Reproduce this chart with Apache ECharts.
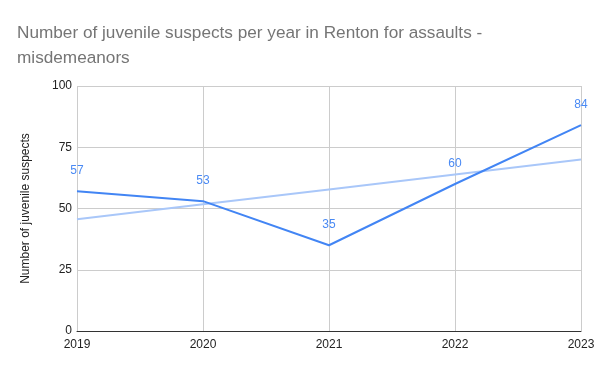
<!DOCTYPE html>
<html><head><meta charset="utf-8">
<script src="https://cdn.jsdelivr.net/npm/echarts@6/dist/echarts.min.js"></script>
<style>html,body{margin:0;padding:0;background:#fff}#c{width:600px;height:371px}</style>
</head><body><div id="c"></div>
<script>
const categories = ['2019','2020','2021','2022','2023'];
const suspects = [57, 53, 35, 60, 84];
const trend = [45.6, 51.7, 57.8, 63.9, 70.0];
const yTicks = [0, 25, 50, 75, 100];
const titleText = 'Number of juvenile suspects per year in Renton for assaults -\nmisdemeanors';
const yName = 'Number of juvenile suspects';

const chart = echarts.init(document.getElementById('c'), null, {renderer:'canvas'});
chart.setOption({
  animation:false,
  title:{text:titleText,left:12,top:16,textStyle:{fontFamily:'Arial, Liberation Sans',fontSize:17.2,fontWeight:'normal',color:'#757575',lineHeight:25}},
  grid:{left:77,right:19,top:86,bottom:40},
  xAxis:{type:'category',data:categories,boundaryGap:false,
    axisLine:{lineStyle:{color:'#333',width:1}},axisTick:{show:false},
    axisLabel:{color:'#222',fontSize:12,fontFamily:'Arial, Liberation Sans',margin:8,
      showMinLabel:true,showMaxLabel:true},
    splitLine:{show:true,lineStyle:{color:'#ccc',width:1}}},
  yAxis:{type:'value',min:yTicks[0],max:yTicks[yTicks.length-1],interval:25,
    name:yName,nameLocation:'middle',nameGap:45,nameRotate:90,
    nameTextStyle:{color:'#222',fontSize:12,fontFamily:'Arial, Liberation Sans'},
    axisLine:{show:false},axisTick:{show:false},
    axisLabel:{color:'#222',fontSize:12,fontFamily:'Arial, Liberation Sans',margin:5},
    splitLine:{lineStyle:{color:'#ccc',width:1}}},
  series:[
    {type:'line',data:trend,symbol:'none',lineStyle:{color:'#a9c7f9',width:2},z:2,silent:true},
    {type:'line',data:suspects,symbol:'circle',symbolSize:1,showSymbol:true,itemStyle:{color:'rgba(66,133,244,0)'},
      lineStyle:{color:'#4285f4',width:2},z:3,
      label:{show:true,position:'top',distance:14,color:'#4a8af4',fontSize:12,fontFamily:'Arial, Liberation Sans'}}
  ]
});
</script></body></html>
